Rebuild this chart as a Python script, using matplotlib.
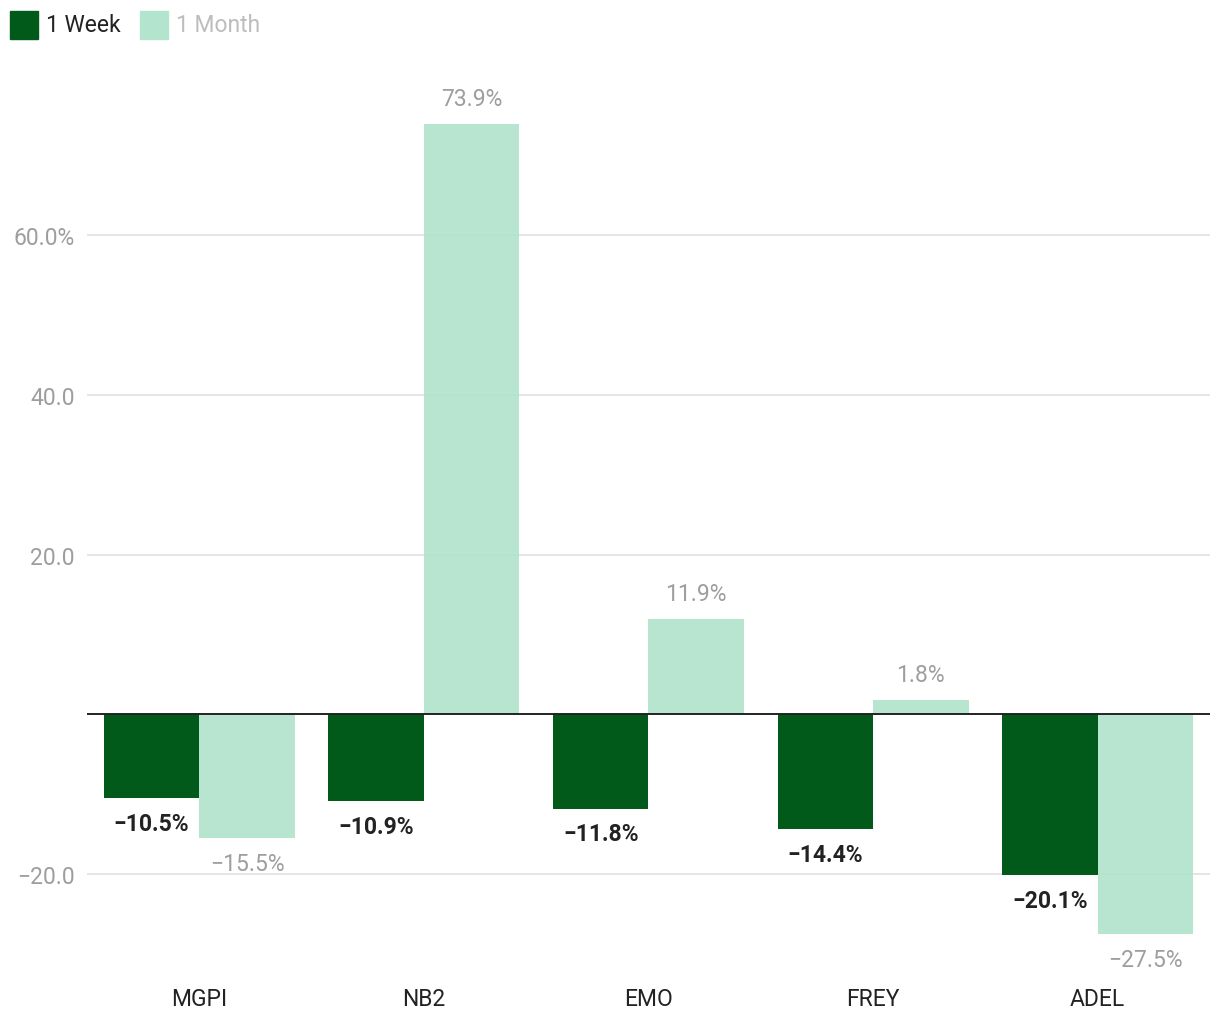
import matplotlib.pyplot as plt
import numpy as np

plt.rcParams['font.family'] = ['Roboto', 'DejaVu Sans']

# %%
# Data
tickers = ['MGPI', 'NB2', 'EMO', 'FREY', 'ADEL']
week = [-10.5, -10.9, -11.8, -14.4, -20.1]
month = [-15.5, 73.9, 11.9, 1.8, -27.5]
yticks = [-20, 20, 40, 60]
ytick_labels = ['\u221220.0', '20.0', '40.0', '60.0%']

dark = '#01591a'
light = '#b3e4cd'


def fmt(v):
    s = f'{abs(v):.1f}%'
    return ('\u2212' + s) if v < 0 else s


# %%
fig = plt.figure(figsize=(12.2, 10.2), dpi=100)
ax = fig.add_axes([0.0713, 0.042, 0.9205, 0.897])

x = np.arange(len(tickers))
w = 0.425
ax.bar(x - w / 2, week, width=w, color=dark, zorder=2)
ax.bar(x + w / 2, month, width=w, color=light, alpha=0.95, zorder=2)

for xi, v in zip(x - w / 2, week):
    ax.annotate(fmt(v), (xi, v), xytext=(0, -10), textcoords='offset points',
                ha='center', va='top', fontsize=16.5, fontweight='bold',
                color='#222222')
for xi, v in zip(x + w / 2, month):
    off = 10 if v > 0 else -10
    ax.annotate(fmt(v), (xi, v), xytext=(0, off), textcoords='offset points',
                ha='center', va='bottom' if v > 0 else 'top', fontsize=16.5,
                color='#9e9e9e')

ax.axhline(0, color='#222222', lw=1.4, zorder=3)
ax.set_xlim(-0.5, len(tickers) - 0.5)
ax.set_ylim(-32.8, 81.8)
ax.set_yticks(yticks)
ax.set_yticklabels(ytick_labels)
ax.yaxis.grid(True, color='#e0e0e0', lw=1.2, zorder=1)
ax.set_axisbelow(True)
ax.set_xticks(x)
ax.set_xticklabels(tickers)
ax.tick_params(axis='y', length=0, labelsize=16.5, labelcolor='#9e9e9e', pad=9)
ax.tick_params(axis='x', length=0, labelsize=16.5, labelcolor='#222222', pad=8)
for s in ax.spines.values():
    s.set_visible(False)

# legend
fig.patches.append(plt.Rectangle((10 / 1220, 1 - 40 / 1020), 28 / 1220, 28 / 1020,
                                 transform=fig.transFigure, color=dark))
fig.text(46 / 1220, 1 - 26 / 1020, '1 Week', fontsize=16.5, color='#222222',
         va='center')
fig.patches.append(plt.Rectangle((140 / 1220, 1 - 40 / 1020), 28 / 1220, 28 / 1020,
                                 transform=fig.transFigure, color=light))
fig.text(176 / 1220, 1 - 26 / 1020, '1 Month', fontsize=16.5, color='#bdbdbd',
         va='center')

plt.savefig('out.png', dpi=100)
